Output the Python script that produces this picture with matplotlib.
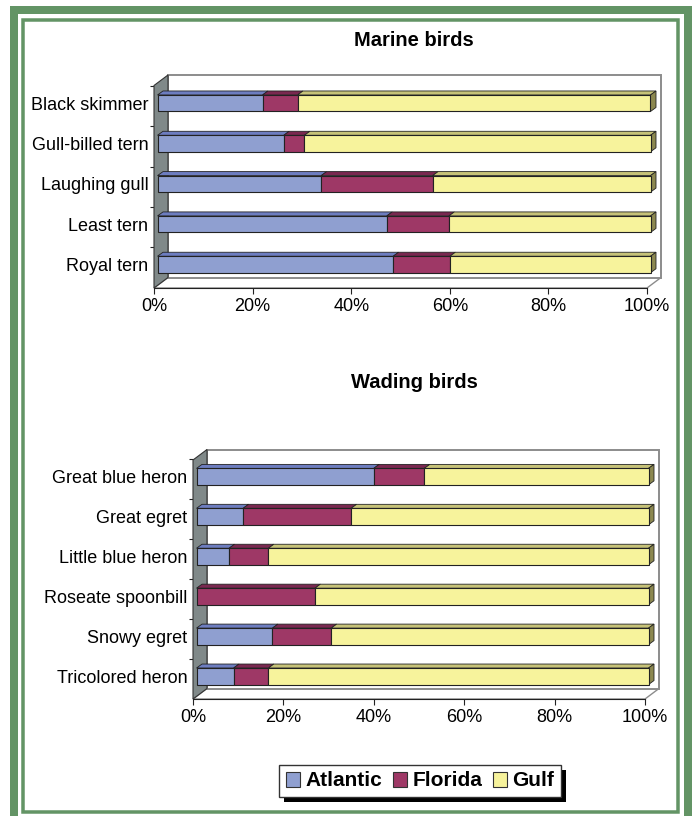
import matplotlib
matplotlib.use("Agg")
import matplotlib.pyplot as plt
from matplotlib.patches import Polygon, Rectangle, Patch

plt.rcParams["font.family"] = ["Liberation Sans", "DejaVu Sans"]

# Share of nesting colonies by coast (percent)
marine_birds = ["Black skimmer", "Gull-billed tern", "Laughing gull", "Least tern", "Royal tern"]
marine_atlantic = [21.3, 25.6, 33.2, 46.5, 47.8]
marine_florida = [7.1, 4.2, 22.6, 12.6, 11.5]
marine_gulf = [71.6, 70.2, 44.2, 40.9, 40.7]

wading_birds = ["Great blue heron", "Great egret", "Little blue heron",
                "Roseate spoonbill", "Snowy egret", "Tricolored heron"]
wading_atlantic = [39.2, 10.3, 7.2, 0.0, 16.8, 8.2]
wading_florida = [11.2, 23.9, 8.7, 26.2, 13.0, 7.7]
wading_gulf = [49.6, 65.8, 84.1, 73.8, 70.2, 84.1]

series_names = ["Atlantic", "Florida", "Gulf"]
front_colors = ["#8f9fd0", "#9e3866", "#f7f39c"]
top_colors = ["#6d7dc0", "#7a2850", "#c6c278"]
end_colors = ["#5d6aa0", "#5e1f3c", "#8c8850"]
edge = "#222222"

W, H = 694, 816
fig = plt.figure(figsize=(W / 100, H / 100), dpi=100)
fig.patch.set_facecolor("white")


def px_axes(left, top, right, bottom):
    return fig.add_axes([left / W, 1 - bottom / H, (right - left) / W, (bottom - top) / H])


def draw_panel(ax, names, atl, flo, gulf, ylim):
    n = len(names)
    ax.set_xlim(0, 100)
    ax.set_ylim(*ylim)
    pos = ax.get_position()
    sx = 100 / (pos.width * W)
    sy = (ylim[1] - ylim[0]) / (pos.height * H)
    dx, dy = 14 * sx, 10.5 * sy          # wall depth
    fx = 3.5 * sx                        # bar front plane offset
    bx, by = 5.5 * sx, 4.0 * sy          # bar depth
    h = 16.5 * sy                        # bar thickness
    y0, yt = ylim

    # floor, back wall and side wall
    ax.add_patch(Polygon([(0, y0), (100, y0), (100 + dx, y0 + dy), (dx, y0 + dy)],
                         closed=True, fc="white", ec="#8c8c8c", lw=1.0, clip_on=False, zorder=1))
    ax.add_patch(Rectangle((dx, y0 + dy), 100, yt - (y0 + dy), fc="white", ec="#8c8c8c",
                           lw=1.4, clip_on=False, zorder=1))
    ax.add_patch(Polygon([(0, y0), (dx, y0 + dy), (dx, yt), (0, yt - dy)], closed=True,
                         fc="#808989", ec="#333333", lw=0.8, clip_on=False, zorder=2))

    for k in range(n):
        yc = n - 1 - k
        vals = [atl[k], flo[k], gulf[k]]
        total = sum(vals)
        left = 0.0
        yb, ytp = yc - h / 2, yc + h / 2
        for j, v in enumerate(vals):
            w = v / total * 100
            if w <= 0:
                continue
            x0, x1 = fx + left, fx + left + w
            ax.add_patch(Rectangle((x0, yb), w, h, fc=front_colors[j], ec=edge, lw=0.8,
                                   clip_on=False, zorder=4))
            ax.add_patch(Polygon([(x0, ytp), (x1, ytp), (x1 + bx, ytp + by), (x0 + bx, ytp + by)],
                                 closed=True, fc=top_colors[j], ec=edge, lw=0.6,
                                 clip_on=False, zorder=3))
            left += w
        xe = fx + left
        ax.add_patch(Polygon([(xe, yb), (xe, ytp), (xe + bx, ytp + by), (xe + bx, yb + by)],
                             closed=True, fc=end_colors[2], ec=edge, lw=0.6,
                             clip_on=False, zorder=3))

    for s in ["top", "right", "left"]:
        ax.spines[s].set_visible(False)
    ax.spines["bottom"].set_color("#222222")
    ax.spines["bottom"].set_linewidth(0.8)
    ax.patch.set_alpha(0)

    ax.set_xticks(range(0, 101, 20))
    ax.set_xticklabels([f"{v}%" for v in range(0, 101, 20)])
    ax.tick_params(axis="x", length=4, width=0.8, pad=3, labelsize=13, color="#222222")
    ax.set_yticks(range(n))
    ax.set_yticklabels(names[::-1])
    ax.tick_params(axis="y", which="major", length=0, pad=4, labelsize=13)
    ax.set_yticks([i + 0.43 for i in range(n)], minor=True)
    ax.tick_params(axis="y", which="minor", length=3, width=0.8, color="#222222")


ax1 = px_axes(154, 75, 647, 288)
draw_panel(ax1, marine_birds, marine_atlantic, marine_florida, marine_gulf, (-0.583, 4.70))
ax2 = px_axes(193, 449.5, 645, 699)
draw_panel(ax2, wading_birds, wading_atlantic, wading_florida, wading_gulf, (-0.569, 5.68))

fig.text(414 / W, 1 - 40 / H, "Marine birds", ha="center", va="center",
         fontsize=14.5, fontweight="bold")
fig.text(414 / W, 1 - 383 / H, "Wading birds", ha="center", va="center",
         fontsize=14.5, fontweight="bold")

handles = [Patch(fc=c, ec="#333333", lw=0.8) for c in front_colors]
leg = fig.legend(handles, series_names, loc="center", bbox_to_anchor=(420 / W, 1 - 781 / H),
                 ncol=3, frameon=True, fancybox=False, framealpha=1.0,
                 handlelength=0.7, handleheight=0.7, handletextpad=0.25, columnspacing=0.5,
                 borderpad=0.3, prop={"weight": "bold", "size": 15})
leg.set_zorder(6)
leg.get_frame().set_edgecolor("#333333")
leg.get_frame().set_facecolor("white")
leg.get_frame().set_linewidth(1.0)

# solid drop shadow behind the legend box
fig.canvas.draw()
bb = leg.get_window_extent()
fig.add_artist(Rectangle((bb.x0 + 5, bb.y0 - 5), bb.width, bb.height, transform=None,
                         fc="black", ec="none", zorder=5))

# page border
green = "#639465"
fig.add_artist(Rectangle((14 / W, -0.02), (688 - 14) / W, 1 - 9.5 / H + 0.02,
                         transform=fig.transFigure, fill=False, ec=green, lw=8 * 0.72))
fig.add_artist(Rectangle((23.5 / W, 1 - 811.5 / H), (678 - 23.5) / W, (811.5 - 19.5) / H,
                         transform=fig.transFigure, fill=False, ec=green, lw=3.5 * 0.72))

fig.savefig("out.png", dpi=100)
